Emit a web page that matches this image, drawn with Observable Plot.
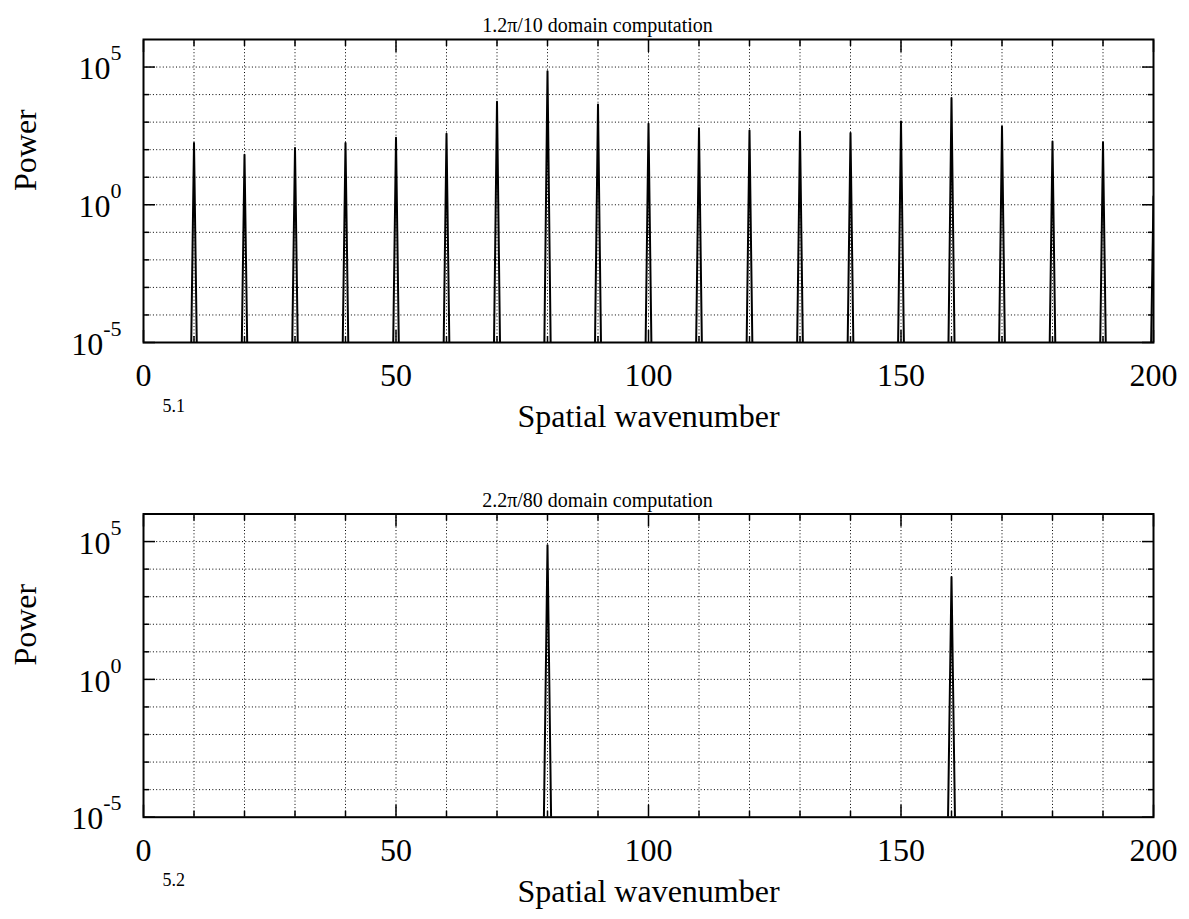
<!DOCTYPE html>
<html>
<head>
<meta charset="utf-8">
<script src="https://cdn.jsdelivr.net/npm/d3@7"></script>
<script src="https://cdn.jsdelivr.net/npm/@observablehq/plot@0.6"></script>
<style>
  body { margin: 0; background: #fff; }
  svg { display: block; }
</style>
</head>
<body>
<div id="chart"></div>
<script>
// ---- data ----
const topTitle = "1.2\u03c0/10 domain computation";
const bottomTitle = "2.2\u03c0/80 domain computation";
const topTag = "5.1";
const bottomTag = "5.2";
const xLabel = "Spatial wavenumber";
const yLabel = "Power";

const topWavenumber = [10, 20, 30, 40, 50, 60, 70, 80, 90, 100, 110, 120, 130, 140, 150, 160, 170, 180, 190, 200];
const topPower = [174, 65, 115, 174, 269, 380, 5500, 70800, 4370, 871, 603, 501, 457, 407, 1047, 7590, 692, 200, 186, 2];
const topFloor = 1e-11;      // power in neighbouring bins (below the axis)

const bottomWavenumber = [80, 160];
const bottomPower = [74000, 5130];
const bottomFloor = 1e-9;

const xTickValues = [0, 50, 100, 150, 200];
const xMinorTicks = [10, 20, 30, 40, 60, 70, 80, 90, 110, 120, 130, 140, 160, 170, 180, 190];
const xGrid = [10, 20, 30, 40, 50, 60, 70, 80, 90, 100, 110, 120, 130, 140, 150, 160, 170, 180, 190];
const yTickValues = [1e-5, 1, 1e5];
const yMinorTicks = [1e-4, 1e-3, 1e-2, 1e-1, 1e1, 1e2, 1e3, 1e4];
const yGrid = [1e-4, 1e-3, 1e-2, 1e-1, 1, 1e1, 1e2, 1e3, 1e4, 1e5];
const xDomain = [0, 200];
const yDomain = [1e-5, 1e6];

// build spike tables (each spectral line with its neighbouring bins)
function spikes(ks, ps, floor) {
  const rows = [];
  ks.forEach((k, i) => {
    rows.push({k: k - 1, p: floor}, {k: k, p: ps[i]}, {k: k + 1, p: floor});
  });
  return rows;
}

const FONT = "'Liberation Serif', 'Times New Roman', Times, serif";
const dotted = {stroke: "#000", strokeOpacity: 1, strokeWidth: 1, strokeDasharray: "1,2.3"};
const noText = () => "";

function panel({data, title, tag, height, marginTop, marginBottom}) {
  const fig = Plot.plot({
    width: 1189,
    height,
    marginLeft: 143,
    marginRight: 36,
    marginTop,
    marginBottom,
    style: {fontFamily: FONT, fontSize: "32px", background: "#fff", color: "#000", overflow: "visible"},
    x: {domain: xDomain, axis: null},
    y: {type: "log", domain: yDomain, axis: null},
    marks: [
      Plot.gridX(xGrid, dotted),
      Plot.gridY(yGrid, dotted),
      Plot.line(data, {x: "k", y: "p", stroke: "#000", strokeWidth: 2, clip: true}),
      Plot.frame({stroke: "#000", strokeWidth: 2}),
      // inward ticks
      Plot.axisX(xTickValues, {anchor: "bottom", tickSize: 12, dy: -12, strokeWidth: 1.5, tickFormat: noText, label: null}),
      Plot.axisX(xMinorTicks, {anchor: "bottom", tickSize: 6, dy: -6, strokeWidth: 1.5, tickFormat: noText, label: null}),
      Plot.axisX(xTickValues, {anchor: "top", tickSize: 12, dy: 12, strokeWidth: 1.5, tickFormat: noText, label: null}),
      Plot.axisX(xMinorTicks, {anchor: "top", tickSize: 6, dy: 6, strokeWidth: 1.5, tickFormat: noText, label: null}),
      Plot.axisY(yTickValues, {anchor: "left", tickSize: 12, dx: 12, strokeWidth: 1.5, tickFormat: noText, label: null}),
      Plot.axisY(yMinorTicks, {anchor: "left", tickSize: 6, dx: 6, strokeWidth: 1.5, tickFormat: noText, label: null}),
      Plot.axisY(yTickValues, {anchor: "right", tickSize: 12, dx: -12, strokeWidth: 1.5, tickFormat: noText, label: null}),
      Plot.axisY(yMinorTicks, {anchor: "right", tickSize: 6, dx: -6, strokeWidth: 1.5, tickFormat: noText, label: null}),
      // tick labels
      Plot.axisX(xTickValues, {anchor: "bottom", tickSize: 0, tickPadding: 21, fontSize: 32, tickFormat: d => String(d), label: null}),
      Plot.axisY(yTickValues, {anchor: "left", tickSize: 0, tickPadding: 22, dy: 2, fontSize: 32, label: null,
        tickFormat: d => "10^" + Math.round(Math.log10(d))}),
      // titles & labels
      Plot.text([yLabel], {frameAnchor: "left", dx: -118, rotate: -90, fontSize: 32, text: d => d}),
      Plot.text([xLabel], {frameAnchor: "bottom", dy: 84.5, fontSize: 32, text: d => d}),
      Plot.text([tag], {frameAnchor: "bottom-left", dx: 19, dy: 69, fontSize: 18, text: d => d}),
      Plot.text([title], {frameAnchor: "top", dx: -51, dy: -21.4, fontSize: 20, text: d => d})
    ]
  });
  // superscript exponents on the y tick labels
  fig.querySelectorAll('text').forEach(t => {
    const s = t.textContent;
    if (!s.startsWith("10^")) return;
    const exp = s.slice(3);
    t.textContent = "10";
    const ts = document.createElementNS("http://www.w3.org/2000/svg", "tspan");
    ts.setAttribute("dy", "-19");
    ts.setAttribute("font-size", "22");
    ts.textContent = exp;
    t.appendChild(ts);
  });
  return fig;
}

const root = document.getElementById("chart");
root.appendChild(panel({
  data: spikes(topWavenumber, topPower, topFloor),
  title: topTitle, tag: topTag,
  height: 460, marginTop: 39, marginBottom: 118
}));
root.appendChild(panel({
  data: spikes(bottomWavenumber, bottomPower, bottomFloor),
  title: bottomTitle, tag: bottomTag,
  height: 459, marginTop: 53.5, marginBottom: 102.3
}));
</script>
</body>
</html>
